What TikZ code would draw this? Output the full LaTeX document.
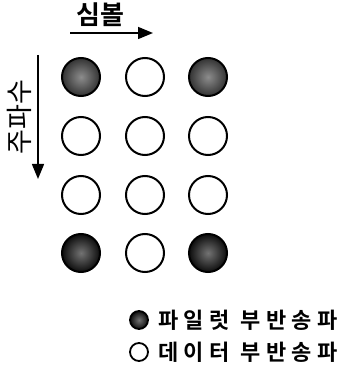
\documentclass[tikz,border=0pt]{standalone}
\usepackage{fontspec}
\newfontfamily\krfont[LetterSpace=25]{Noto Sans CJK KR Bold}
\newfontfamily\krtight{Noto Sans CJK KR Bold}
\newfontfamily\krlight{Noto Sans CJK KR}
\usetikzlibrary{arrows.meta}
\begin{document}
\begin{tikzpicture}[x=1pt,y=-1pt,
  sub/.style={circle,draw=black,line width=2pt,minimum size=38pt,inner sep=0pt},
  pilotA/.style={sub,inner color=black!45,outer color=black!80},
  pilotB/.style={sub,inner color=black!55,outer color=black!95},
  lgd/.style={circle,draw=black,line width=1.8pt,minimum size=18pt,inner sep=0pt},
  axis/.style={line width=1.5pt,-{Triangle[length=15pt,width=12pt]}},
  lbl/.style={inner sep=0pt,font=\krtight\fontsize{26pt}{26pt}\selectfont},
  vlbl/.style={inner sep=0pt,font=\krlight\fontsize{27pt}{27pt}\selectfont},
  lgdtxt/.style={inner sep=0pt,anchor=west,font=\krfont\fontsize{22pt}{22pt}\selectfont}]
\useasboundingbox (0,0) rectangle (338,379);
% grid of subcarriers
\node[pilotA] (c11) at (81,77) {};
\node[sub]    (c12) at (145,77) {};
\node[pilotA] (c13) at (208,77) {};
\node[sub] (c21) at (81,136) {};
\node[sub] (c22) at (145,136) {};
\node[sub] (c23) at (208,136) {};
\node[sub] (c31) at (81,195) {};
\node[sub] (c32) at (145,195) {};
\node[sub] (c33) at (208,195) {};
\node[pilotB] (c41) at (81,253) {};
\node[sub]    (c42) at (145,253) {};
\node[pilotB] (c43) at (208,253) {};
% axes
\coordinate (hs) at (70,33);
\coordinate (he) at (153,33);
\draw[axis] (hs) -- (he);
\node[lbl] (sym) at (100,15) {심볼};
\coordinate (vs) at (38,55);
\coordinate (ve) at (38,179);
\draw[axis] (vs) -- (ve);
\node[vlbl,rotate=90] (freq) at (19,117) {주파수};
% legend
\node[lgd,inner color=black!55,outer color=black!95] (lp) at (139,320) {};
\node[lgdtxt] (lpt) at (158,320) {파일럿 부반송파};
\node[lgd] (ld) at (139,352) {};
\node[lgdtxt] (ldt) at (158,352) {데이터 부반송파};
\end{tikzpicture}
\end{document}
